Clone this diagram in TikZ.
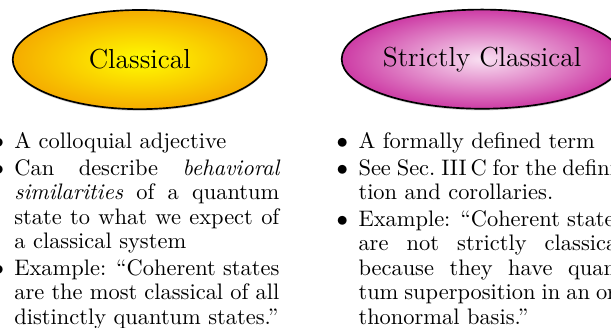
\documentclass[tikz,border=0pt]{standalone}
\usetikzlibrary{shapes.geometric,shadows}
\definecolor{yin}{RGB}{255,252,0}
\definecolor{yout}{RGB}{245,172,0}
\definecolor{pin}{RGB}{249,224,242}
\definecolor{pout}{RGB}{205,60,165}
\newenvironment{bulletlist}{\begin{list}{$\bullet$}{%
  \setlength\leftmargin{12pt}\setlength\labelwidth{7pt}\setlength\labelsep{5pt}%
  \setlength\itemsep{1pt}\setlength\topsep{0pt}\setlength\parsep{0pt}\setlength\partopsep{0pt}}}%
  {\end{list}}
\tikzset{
  ovalbox/.style={ellipse, draw=black, line width=0.8pt, minimum width=122pt, minimum height=47.6pt,
    inner sep=0pt, font=\fontsize{13.2}{15}\selectfont, drop shadow={shadow xshift=0pt,shadow yshift=-0.8pt,opacity=0.35}},
  listbox/.style={anchor=north west, inner sep=0pt, text width=139.2pt, align=justify,
    font=\fontsize{10.77}{11.76}\selectfont}
}
\begin{document}
\begin{tikzpicture}[x=1pt,y=1pt]
\clip (0,0) rectangle (293.3,-157);
\useasboundingbox (0,0) rectangle (293.3,-157);
\node[ovalbox, inner color=yin, outer color=yout] (cl) at (67.1,-28.6) {Classical};
\node[ovalbox, inner color=pin, outer color=pout] (scl) at (231.4,-28.4) {Strictly Classical};
\node[listbox] (cltext) at (-5.3,-59.3) {%
\begin{bulletlist}
\item A colloquial adjective
\item Can describe \emph{behavioral similarities} of a quantum state to what we expect of a classical system
\item Example: ``Coherent states are the most classical of all distinctly quantum states.''
\end{bulletlist}};
\node[listbox] (scltext) at (159.9,-59.3) {%
\begin{bulletlist}
\item A formally defined term
\item See Sec.~III\,C for the defini\-tion and corollaries.
\item Example: ``Coherent states are not strictly classical because they have quantum superposition in an orthonormal basis.''
\end{bulletlist}};
\end{tikzpicture}
\end{document}
